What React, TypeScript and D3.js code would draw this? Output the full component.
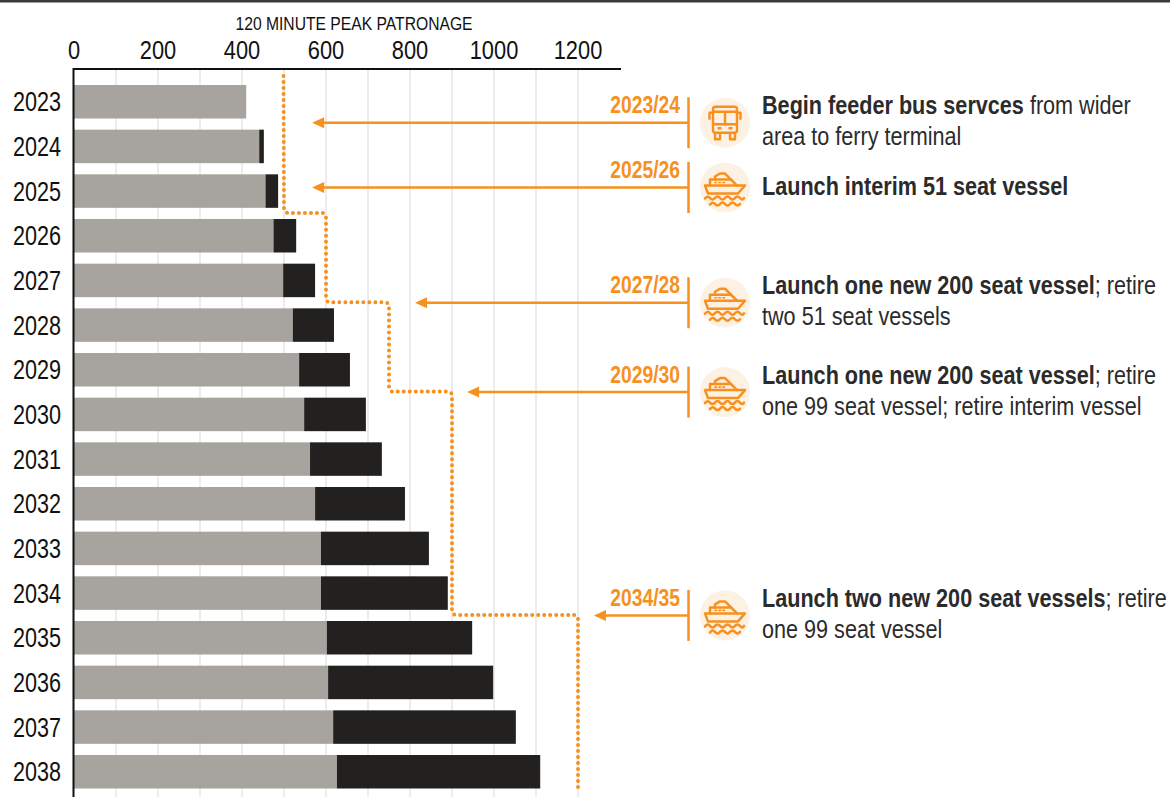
import React from "react";
import * as d3 from "d3";

const FONT = "'Liberation Sans', Arial, sans-serif";
const ORANGE = "#f7901e";
const GREY = "#a7a4a0";
const BLACK = "#22211f";

const years = [2023, 2024, 2025, 2026, 2027, 2028, 2029, 2030, 2031, 2032, 2033, 2034, 2035, 2036, 2037, 2038];
const existing = [410, 441, 456, 475, 498, 521, 536, 548, 562, 574, 588, 588, 602, 605, 617, 626];
const growth = [0, 11, 30, 54, 76, 98, 121, 147, 171, 214, 257, 302, 346, 393, 435, 484];
const xTicks = [0, 200, 400, 600, 800, 1000, 1200];
const gridTicks = [100, 200, 300, 400, 500, 600, 700, 800, 900, 1000, 1100, 1200];
const capacityYears = [2023, 2026, 2028, 2030, 2035];
const capacityValues = [500, 600, 750, 900, 1200];

type Run = { t: string; b?: boolean };
type Note = { period: string; year: number; arrowTo: number; icon: string; lines: Run[][] };
const notes: Note[] = [
  { period: "2023/24", year: 2023.97, arrowTo: 567, icon: "bus", lines: [[{ t: "Begin feeder bus servces", b: true }, { t: " from wider" }], [{ t: "area to ferry terminal" }]] },
  { period: "2025/26", year: 2025.42, arrowTo: 567, icon: "ship", lines: [[{ t: "Launch interim 51 seat vessel", b: true }]] },
  { period: "2027/28", year: 2028, arrowTo: 812, icon: "ship", lines: [[{ t: "Launch one new 200 seat vessel", b: true }, { t: "; retire" }], [{ t: "two 51 seat vessels" }]] },
  { period: "2029/30", year: 2030, arrowTo: 936, icon: "ship", lines: [[{ t: "Launch one new 200 seat vessel", b: true }, { t: "; retire" }], [{ t: "one 99 seat vessel; retire interim vessel" }]] },
  { period: "2034/35", year: 2035, arrowTo: 1238, icon: "ship", lines: [[{ t: "Launch two new 200 seat vessels", b: true }, { t: "; retire" }], [{ t: "one 99 seat vessel" }]] },
];

const x = d3.scaleLinear().domain([0, 1300]).range([74, 620]);
const rowTop = d3.scaleLinear().domain([2023, 2038]).range([85, 755]);
const barH = 33.5;
const rowCentre = (y: number) => rowTop(y) + barH / 2;
// Boundary between a year and the one before it
const rowEdge = (y: number) => rowCentre(y) - 22.33;

function capacityPath(): string {
  const r = 4;
  const pts: [number, number][] = [[x(capacityValues[0]) - 0.5, 76]];
  for (let i = 1; i < capacityYears.length; i++) {
    const yy = rowEdge(capacityYears[i]) - 0.5;
    pts.push([x(capacityValues[i - 1]), yy], [x(capacityValues[i]), yy]);
  }
  pts.push([x(capacityValues[capacityValues.length - 1]), 791]);
  const p = d3.path();
  p.moveTo(pts[0][0], pts[0][1]);
  for (let i = 1; i < pts.length - 1; i++) p.arcTo(pts[i][0], pts[i][1], pts[i + 1][0], pts[i + 1][1], r);
  p.lineTo(pts[pts.length - 1][0], pts[pts.length - 1][1]);
  return p.toString();
}

// Condensed lettering: the installed sans is squeezed horizontally about its anchor
function Narrow({ x: tx, y, s, children, ...rest }: any) {
  return (
    <text transform={`translate(${tx},${y}) scale(${s},1)`} {...rest}>
      {children}
    </text>
  );
}

function BusIcon({ cx, cy }: { cx: number; cy: number }) {
  return (
    <g transform={`translate(${cx},${cy})`} fill="none" stroke={ORANGE} strokeWidth={2.4} strokeLinejoin="round">
      <rect x={-12} y={-16} width={24} height={26} rx={2.5} />
      <path d="M-12,-11H12M-12,1.5H12M0,-11V1.5" />
      <path d="M-12,-10H-15.5V-3M12,-10H15.5V-3" />
      <path d="M-10,10V16.5H-5V10M5,10V16.5H10V10" />
      <path d="M-7.5,5.5H-3.5M3.5,5.5H7.5" />
    </g>
  );
}

function ShipIcon({ cx, cy }: { cx: number; cy: number }) {
  return (
    <g transform={`translate(${cx},${cy})`} fill="none" stroke={ORANGE} strokeWidth={2.5} strokeLinejoin="round" strokeLinecap="round">
      <path d="M-20,-2H20L13,6H-17Z" />
      <path d="M-15,-2V-8H6L12,-2" />
      <path d="M-10,-8V-11L-5,-14H0L6,-8" />
      <path d="M-10,-5H-8.5M-6,-5H-4.5M-2,-5H-.5" strokeWidth={1.7} />
      <path d="M-20,11Q-17.5,7.5 -15,10.5T-10,10.5T-5,10.5T0,10.5T5,10.5T10,10.5T15,10.5T19,10.5" />
      <path d="M-15,17Q-12.5,13.5 -10,16.5T-5,16.5T0,16.5T5,16.5T10,16.5T15,16.5" />
    </g>
  );
}

export default function App() {
  return (
    <svg width={1170} height={797} style={{ position: "absolute", left: 0, top: 0, background: "#fff" }} fontFamily={FONT}>
      <rect x={0} y={0} width={1170} height={2.5} fill="#3a3a3a" />
      {gridTicks.map((t) => (
        <line key={t} x1={x(t)} x2={x(t)} y1={69} y2={797} stroke="#ececec" strokeWidth={2} />
      ))}
      {years.map((yr, i) => (
        <g key={yr}>
          <rect x={x(0)} y={rowTop(yr)} width={x(existing[i]) - x(0)} height={barH} fill={GREY} />
          {growth[i] > 0 && (
            <rect x={x(existing[i])} y={rowTop(yr)} width={x(existing[i] + growth[i]) - x(existing[i])} height={barH} fill={BLACK} />
          )}
          <Narrow x={61} y={rowCentre(yr) + 9.5} s={0.8} fontSize={27} textAnchor="end" fill="#111">{yr}</Narrow>
        </g>
      ))}
      <line x1={73.5} x2={73.5} y1={68} y2={797} stroke="#111" strokeWidth={2} />
      <line x1={73} x2={621} y1={69} y2={69} stroke="#111" strokeWidth={2} />
      {xTicks.map((t) => (
        <Narrow key={t} x={x(t)} y={58.5} s={0.84} fontSize={26} textAnchor="middle" fill="#111">{t}</Narrow>
      ))}
      <Narrow x={354} y={30} s={0.825} fontSize={19} textAnchor="middle" fill="#111">120 MINUTE PEAK PATRONAGE</Narrow>
      <path d={capacityPath()} fill="none" stroke={ORANGE} strokeWidth={4} strokeLinecap="round" strokeDasharray="0 6" />
      {notes.map((n) => {
        const ay = rowEdge(n.year);
        const firstBaseline = ay + (n.lines.length === 1 ? 7.5 : -8.5);
        return (
          <g key={n.period}>
            <line x1={x(n.arrowTo) + 10} x2={688} y1={ay} y2={ay} stroke={ORANGE} strokeWidth={2.5} />
            <path d={`M${x(n.arrowTo)},${ay}l12,-5.5v11z`} fill={ORANGE} />
            <line x1={688.5} x2={688.5} y1={ay - 25.5} y2={ay + 25.5} stroke={ORANGE} strokeWidth={2.5} />
            <Narrow x={680} y={ay - 9.5} s={0.84} fontSize={23} fontWeight={700} textAnchor="end" fill={ORANGE}>{n.period}</Narrow>
            <circle cx={725} cy={ay} r={25} fill="#fdf1e3" />
            {n.icon === "bus" ? <BusIcon cx={725} cy={ay} /> : <ShipIcon cx={725} cy={ay} />}
            {n.lines.map((runs, i) => (
              <Narrow key={i} x={762} y={firstBaseline + i * 31} s={0.865} fontSize={25} fill="#2b2b2b">
                {runs.map((r, j) => (
                  <tspan key={j} fontWeight={r.b ? 700 : 400}>{r.t}</tspan>
                ))}
              </Narrow>
            ))}
          </g>
        );
      })}
    </svg>
  );
}
